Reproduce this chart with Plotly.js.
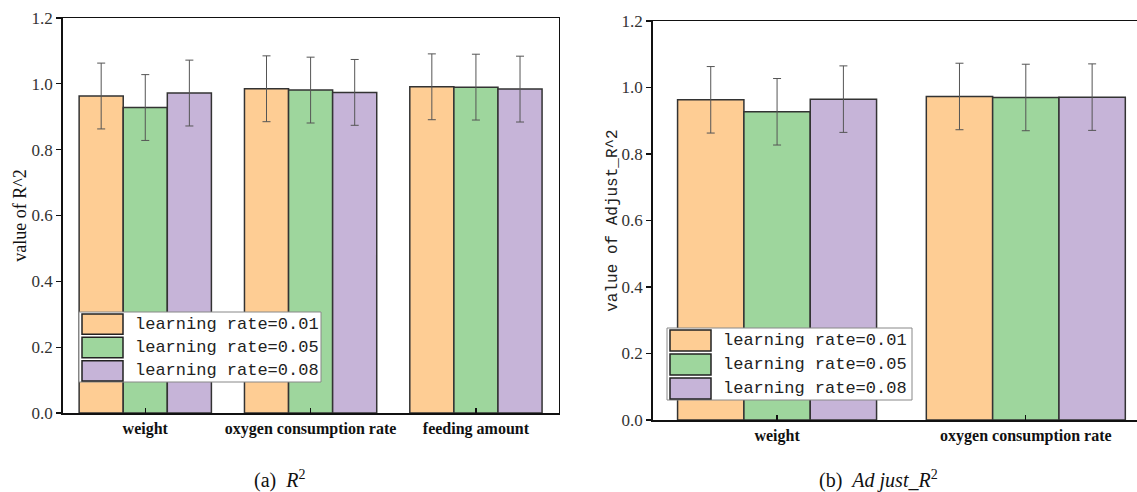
<!DOCTYPE html>
<html>
<head>
<meta charset="utf-8">
<script src="https://cdn.plot.ly/plotly-3.0.1.min.js"></script>
<style>html,body{margin:0;padding:0;background:#fff;}#chart{width:1137px;height:492px;}</style>
</head>
<body>
<div id="chart"></div>
<script>
// ---- data ----
const categoriesA = ["weight", "oxygen consumption rate", "feeding amount"];
const categoriesB = ["weight", "oxygen consumption rate"];
const seriesNames = ["learning rate=0.01", "learning rate=0.05", "learning rate=0.08"];
const r2_lr001 = [0.963, 0.985, 0.991];
const r2_lr005 = [0.928, 0.981, 0.990];
const r2_lr008 = [0.972, 0.974, 0.984];
const r2_err001 = [0.10, 0.10, 0.10];
const r2_err005 = [0.10, 0.10, 0.10];
const r2_err008 = [0.10, 0.10, 0.10];
const adj_lr001 = [0.963, 0.973];
const adj_lr005 = [0.927, 0.970];
const adj_lr008 = [0.965, 0.971];
const adj_err001 = [0.10, 0.10];
const adj_err005 = [0.10, 0.10];
const adj_err008 = [0.10, 0.10];
const yTickVals = [0, 0.2, 0.4, 0.6, 0.8, 1.0, 1.2];
const yTickText = ["0.0", "0.2", "0.4", "0.6", "0.8", "1.0", "1.2"];

const colors = ["#FECD94", "#9ED69D", "#C6B4D8"];
const serif = "Liberation Serif";
const mono = "Liberation Mono";

function bar(x, y, err, i, xa, ya) {
  return {
    type: "bar", x: x, y: y, name: seriesNames[i], xaxis: xa, yaxis: ya,
    showlegend: false,
    marker: {color: colors[i], line: {color: "#333333", width: 1.5}},
    error_y: {type: "data", array: err, visible: true, color: "#555555", thickness: 1, width: 4},
    hoverinfo: "x+y"
  };
}

const data = [
  bar(categoriesA, r2_lr001, r2_err001, 0, "x", "y"),
  bar(categoriesA, r2_lr005, r2_err005, 1, "x", "y"),
  bar(categoriesA, r2_lr008, r2_err008, 2, "x", "y"),
  bar(categoriesB, adj_lr001, adj_err001, 0, "x2", "y2"),
  bar(categoriesB, adj_lr005, adj_err005, 1, "x2", "y2"),
  bar(categoriesB, adj_lr008, adj_err008, 2, "x2", "y2")
];

const W = 1137, H = 492;
const px = v => v / W, py = v => 1 - v / H;

const xCommon = {
  type: "category", showline: true, linecolor: "#111", linewidth: 1.5,
  ticks: "inside", ticklen: 5, tickcolor: "#111", tickwidth: 1.2,
  tickfont: {family: serif, size: 16, color: "#111", weight: "bold"},
  showgrid: false, zeroline: false, fixedrange: true
};
const yCommon = {
  range: [0, 1.2], tickvals: yTickVals, ticktext: yTickText,
  showline: true, linecolor: "#111", linewidth: 1.5,
  ticks: "outside", ticklen: 5, tickcolor: "#111", tickwidth: 1.2,
  tickfont: {family: serif, size: 17, color: "#333"},
  showgrid: false, zeroline: false, fixedrange: true
};

// custom legends (large swatches)
const shapes = [], annotations = [];
function legend(x0, y0, x1, y1) {
  shapes.push({type: "rect", xref: "paper", yref: "paper", x0: px(x0), x1: px(x1), y0: py(y1), y1: py(y0),
    fillcolor: "#ffffff", line: {color: "#888888", width: 1}, layer: "above"});
  const rowH = (y1 - y0) / 3;
  for (let i = 0; i < 3; i++) {
    const top = y0 + 2 + i * rowH, bot = top + rowH - 3;
    shapes.push({type: "rect", xref: "paper", yref: "paper", x0: px(x0 + 3), x1: px(x0 + 44), y0: py(bot), y1: py(top),
      fillcolor: colors[i], line: {color: "#222", width: 1.5}, layer: "above"});
    annotations.push({xref: "paper", yref: "paper", x: px(x0 + 54), y: py((top + bot) / 2), xanchor: "left", yanchor: "middle",
      text: seriesNames[i], showarrow: false, font: {family: mono, size: 17, color: "#222"}});
  }
}
legend(79, 312, 321, 382);
legend(667, 328, 912, 400);

annotations.push({xref: "paper", yref: "paper", x: px(279), y: py(479), xanchor: "center", yanchor: "middle",
  text: "(a)  <i>R</i><sup>2</sup>", showarrow: false, font: {family: serif, size: 20, color: "#111"}});
annotations.push({xref: "paper", yref: "paper", x: px(878), y: py(479), xanchor: "center", yanchor: "middle",
  text: "(b)  <i>Ad just_R</i><sup>2</sup>", showarrow: false, font: {family: serif, size: 20, color: "#111"}});

const layout = {
  width: W, height: H, margin: {l: 0, r: 0, t: 0, b: 0},
  paper_bgcolor: "#fff", plot_bgcolor: "#fff",
  barmode: "group", bargap: 0.2, bargroupgap: 0,
  showlegend: false,
  xaxis: Object.assign({}, xCommon, {domain: [px(62.6), px(558.6)], anchor: "y", mirror: true}),
  yaxis: Object.assign({}, yCommon, {domain: [py(413), py(18)], anchor: "x", mirror: true,
    title: {text: "value of R^2", font: {family: serif, size: 18, color: "#111"}, standoff: 0}}),
  xaxis2: Object.assign({}, xCommon, {domain: [px(652.7), 1], anchor: "y2", mirror: true, range: [-0.5, 1.447]}),
  yaxis2: Object.assign({}, yCommon, {domain: [py(420), py(21)], anchor: "x2", mirror: false,
    title: {text: "value of Adjust_R^2", font: {family: mono, size: 16, color: "#222"}, standoff: 0}}),
  shapes: shapes, annotations: annotations
};

Plotly.newPlot("chart", data, layout, {displayModeBar: false, staticPlot: true});
</script>
</body>
</html>
